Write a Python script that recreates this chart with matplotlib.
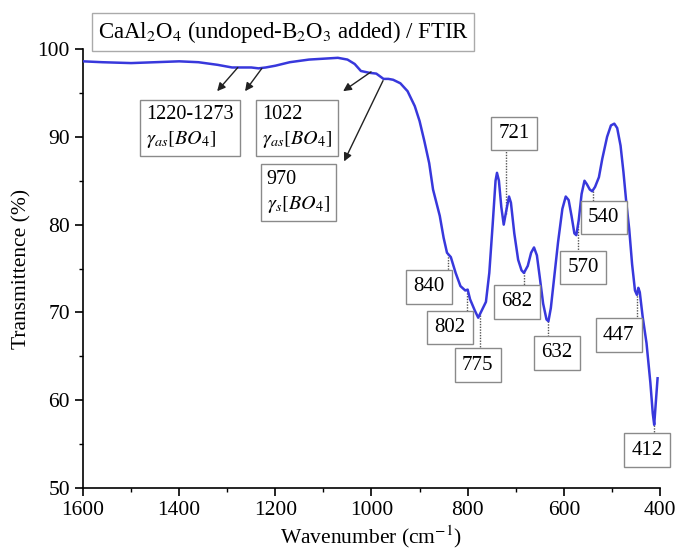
import numpy as np
import matplotlib
matplotlib.use("Agg")
import matplotlib.pyplot as plt
from matplotlib.ticker import MultipleLocator

plt.rcParams['font.family'] = ['Liberation Serif', 'DejaVu Serif']
plt.rcParams['mathtext.fontset'] = 'stix'

# Spectrum (wavenumber, transmittance)
wavenumber = [1600, 1560, 1500, 1450, 1400, 1360, 1320, 1290, 1273, 1250, 1235, 1220, 1200, 1170,
              1130, 1100, 1070, 1050, 1035, 1022, 1005, 990, 975, 965, 955, 940, 925, 910, 900,
              890, 880, 872, 865, 858, 850, 843, 835, 825, 815, 805, 800, 795, 785, 778, 770,
              762, 755, 748, 742, 739, 735, 730, 725, 720, 714, 710, 703, 695, 688, 683, 675,
              668, 662, 656, 650, 643, 636, 632, 627, 620, 612, 603, 596, 590, 584, 578, 574,
              569, 563, 557, 552, 546, 541, 535, 527, 520, 510, 502, 495, 489, 482, 476, 470,
              464, 458, 452, 448, 445, 442, 436, 428, 420, 415, 412, 409, 405]
transmittance = [98.6, 98.5, 98.4, 98.5, 98.6, 98.5, 98.2, 97.9, 97.9, 97.9, 97.8, 97.9, 98.1, 98.5,
                 98.8, 98.9, 99.0, 98.8, 98.3, 97.5, 97.3, 97.2, 96.6, 96.6, 96.5, 96.1, 95.2, 93.5, 91.8,
                 89.5, 87.0, 84.0, 82.5, 81.0, 78.5, 76.8, 76.3, 74.5, 73.0, 72.5, 72.6, 71.5, 70.2, 69.4, 70.3,
                 71.2, 74.5, 80.0, 85.0, 85.9, 85.0, 82.0, 80.0, 81.5, 83.2, 82.5, 79.0, 76.0, 74.8, 74.5, 75.3,
                 76.8, 77.4, 76.5, 74.0, 71.0, 69.2, 69.0, 70.5, 74.0, 78.0, 81.8, 83.2, 82.8, 81.0, 79.0, 78.8,
                 80.5, 83.5, 85.0, 84.6, 84.0, 83.8, 84.3, 85.4, 87.5, 90.0, 91.3, 91.5, 91.0, 89.0, 86.0, 82.5,
                 79.5, 75.5, 72.5, 72.0, 72.8, 72.3, 69.5, 66.5, 62.0, 58.5, 57.2, 59.5, 62.5]

# Peak labels and where their boxes sit
peak_labels = [840, 802, 775, 721, 682, 632, 570, 540, 447, 412]
box_x = [880, 837, 779, 704, 698, 614, 560, 517, 486, 427]
box_y = [72.9, 68.3, 64.0, 90.4, 71.2, 65.4, 75.1, 80.8, 67.4, 54.3]

title_text = r'CaAl$_2$O$_4$ (undoped-B$_2$O$_3$ added) / FTIR'
band_texts = ['1220-1273\n' + r'$\gamma_{as}[BO_4]$',
              '1022\n' + r'$\gamma_{as}[BO_4]$',
              '970\n' + r'$\gamma_{s}[BO_4]$']
band_text_x = [1468, 1228, 1218]
band_text_y = [91.1, 91.1, 83.7]

fig = plt.figure(figsize=(6.76, 5.51), dpi=100)
ax = fig.add_axes([0.1228, 0.1143, 0.8535, 0.7967])

ax.plot(wavenumber, transmittance, color='#3838dc', lw=1.8, zorder=3)

ax.set_xlim(1600, 400)
ax.set_ylim(50, 100)
ax.xaxis.set_major_locator(MultipleLocator(200))
ax.xaxis.set_minor_locator(MultipleLocator(100))
ax.yaxis.set_major_locator(MultipleLocator(10))
ax.yaxis.set_minor_locator(MultipleLocator(5))
ax.tick_params(which='major', direction='out', length=6, width=1.2, labelsize=15.5, colors='black')
ax.tick_params(which='minor', direction='out', length=3, width=1.0)
for s in ['top', 'right']:
    ax.spines[s].set_visible(False)
for s in ['left', 'bottom']:
    ax.spines[s].set_linewidth(1.2)

ax.set_xlabel(r'Wavenumber (cm$^{-1}$)', fontsize=15.5, labelpad=2)
ax.set_ylabel('Transmittence (%)', fontsize=15.5, labelpad=4)

bbox = dict(boxstyle='square,pad=0.35', facecolor='white', edgecolor='#8a8a8a', lw=1.0)

wn = np.array(wavenumber[::-1], dtype=float)
tr = np.array(transmittance[::-1], dtype=float)
for p, bx, by in zip(peak_labels, box_x, box_y):
    yc = np.interp(p, wn, tr)
    ax.plot([p, p], [yc, by], color='#555555', lw=1.0, ls=(0, (1, 1)), zorder=2)
    ax.text(bx, by, str(p), ha='center', va='center', fontsize=15, bbox=bbox, zorder=4)

# band annotations
for t, tx, ty in zip(band_texts, band_text_x, band_text_y):
    ax.text(tx, ty, t, ha='left', va='center', fontsize=14.5, linespacing=1.35,
            bbox=dict(boxstyle='square,pad=0.3', facecolor='white', edgecolor='#8a8a8a', lw=1.0),
            zorder=4)

arrow = dict(arrowstyle='-|>', color='#222222', lw=1.0, mutation_scale=12, shrinkA=0, shrinkB=0)
ax.annotate('', xy=(1321, 95.2), xytext=(1278, 97.9), arrowprops=arrow, zorder=5)
ax.annotate('', xy=(1263, 95.2), xytext=(1228, 97.8), arrowprops=arrow, zorder=5)
ax.annotate('', xy=(1059, 95.2), xytext=(1001, 97.4), arrowprops=arrow, zorder=5)
ax.annotate('', xy=(1057, 87.2), xytext=(976, 96.4), arrowprops=arrow, zorder=5)

ax.text(0.347, 1.039, title_text, transform=ax.transAxes, ha='center', va='center',
        fontsize=16.5, clip_on=False,
        bbox=dict(boxstyle='square,pad=0.25', facecolor='white', edgecolor='#aaaaaa', lw=1.0))

fig.savefig('out.png', dpi=100)
